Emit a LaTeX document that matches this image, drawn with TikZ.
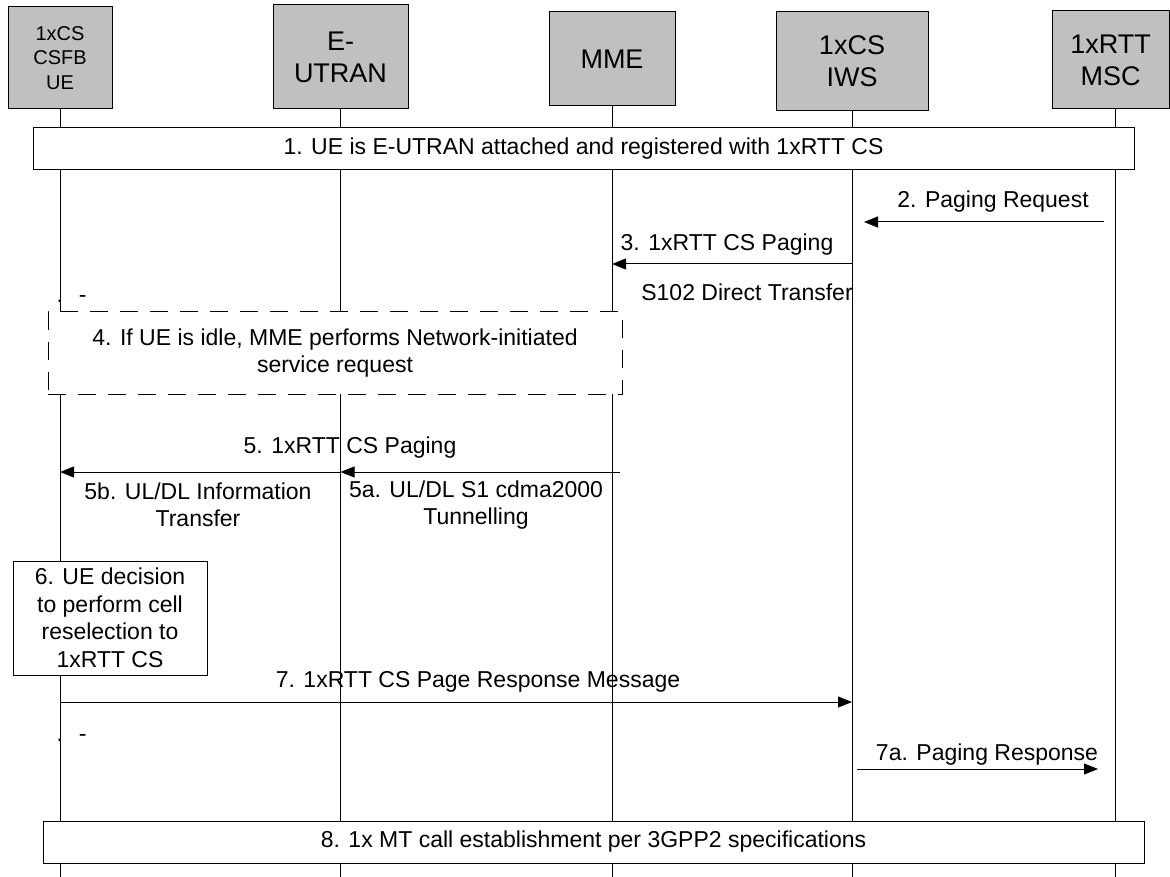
\documentclass[tikz,border=0pt]{standalone}
\usepackage{fontspec}
\setmainfont{Liberation Sans}
\usetikzlibrary{arrows.meta}
\usetikzlibrary{positioning}
\definecolor{headgray}{RGB}{192,192,192}

\begin{document}
\begin{tikzpicture}[x=1pt,y=-1pt,line width=1pt,>={Triangle[length=14pt,width=11pt]},
    entity/.style={draw,fill=headgray,align=center,inner sep=0pt,font=\fontsize{27}{32}\selectfont},
    stepbox/.style={draw,fill=white,align=center,inner sep=0pt,font=\fontsize{23}{27.5}\selectfont},
    msgtext/.style={align=center,inner sep=0pt,font=\fontsize{23}{26.5}\selectfont}]
    \useasboundingbox (0,0) rectangle (1170,877);

    \node[entity,minimum width=104pt,minimum height=102pt,font=\fontsize{20}{24.5}\selectfont] (ue) at (60,58) {1xCS\\CSFB\\UE};
    \node[entity,minimum width=135pt,minimum height=104pt] (eutran) at (340.5,57) {E-\\UTRAN};
    \node[entity,minimum width=126pt,minimum height=94pt] (mme) at (612,59) {MME};
    \node[entity,minimum width=152pt,minimum height=99pt] (iws) at (852,61) {1xCS\\IWS};
    \node[entity,minimum width=117pt,minimum height=98pt] (msc) at (1110.5,60) {1xRTT\\MSC};

    % lifelines
    \coordinate (mscline) at (1115,109);
    \coordinate (ueend) at (60,877);
    \coordinate (eutranend) at (340.5,877);
    \coordinate (mmeend) at (612,877);
    \coordinate (iwsend) at (852,877);
    \coordinate (mscend) at (1115,877);
    \draw (ue.south) -- (ueend);
    \draw (eutran.south) -- (eutranend);
    \draw (mme.south) -- (mmeend);
    \draw (iws.south) -- (iwsend);
    \draw (mscline) -- (mscend);

    \node[stepbox,minimum width=1101pt,minimum height=42pt] (attach) at (583.5,149) {1. UE is E-UTRAN attached and registered with 1xRTT CS};
    \node[stepbox,dashed,dash pattern=on 18pt off 12pt,minimum width=574pt,minimum height=82pt] (svcreq) at (335,353) {4. If UE is idle, MME performs Network-initiated\\service request};
    \node[stepbox,minimum width=194pt,minimum height=114pt] (decide) at (110,618) {6. UE decision\\to perform cell\\reselection to\\1xRTT CS};
    \node[stepbox,minimum width=1101pt,minimum height=42pt] (mtcall) at (593.5,842) {8. 1x MT call establishment per 3GPP2 specifications};

    \node[msgtext] (pagreq) at (993,202) {2. Paging Request};
    \node[msgtext] (cspaging) at (727,245) {3. 1xRTT CS Paging};
    \node[msgtext] (direct) at (747,292) {S102 Direct Transfer};
    \node[msgtext] (uepaging) at (350,448) {5. 1xRTT CS Paging};
    \node[msgtext] (infotransfer) at (198,505) {5b. UL/DL Information\\Transfer};
    \node[msgtext] (tunnelling) at (476,505) {5a. UL/DL S1 cdma2000\\Tunnelling};
    \node[msgtext] (pageresp) at (478,682) {7. 1xRTT CS Page Response Message};
    \node[msgtext] (pagingresp) at (987,755) {7a. Paging Response};
    \node[msgtext,anchor=base west] (strayone) at (56,303) {.\hspace{16pt}-};
    \node[msgtext,anchor=base west] (straytwo) at (56,741) {.\hspace{16pt}-};

    \draw[->,shorten <=11pt,shorten >=12pt] (mscline |- 0,222) -- (iws |- 0,222);
    \draw[->] (iws |- 0,264) -- (mme |- 0,264);
    \draw[->,shorten <=-8pt] (mme |- 0,472) -- (eutran |- 0,472);
    \draw[->] (eutran |- 0,472) -- (ue |- 0,472);
    \draw[->] (ue |- 0,702) -- (iws |- 0,702);
    \draw[->,shorten <=5pt,shorten >=17pt] (iws |- 0,769) -- (mscline |- 0,769);
\end{tikzpicture}
\end{document}
